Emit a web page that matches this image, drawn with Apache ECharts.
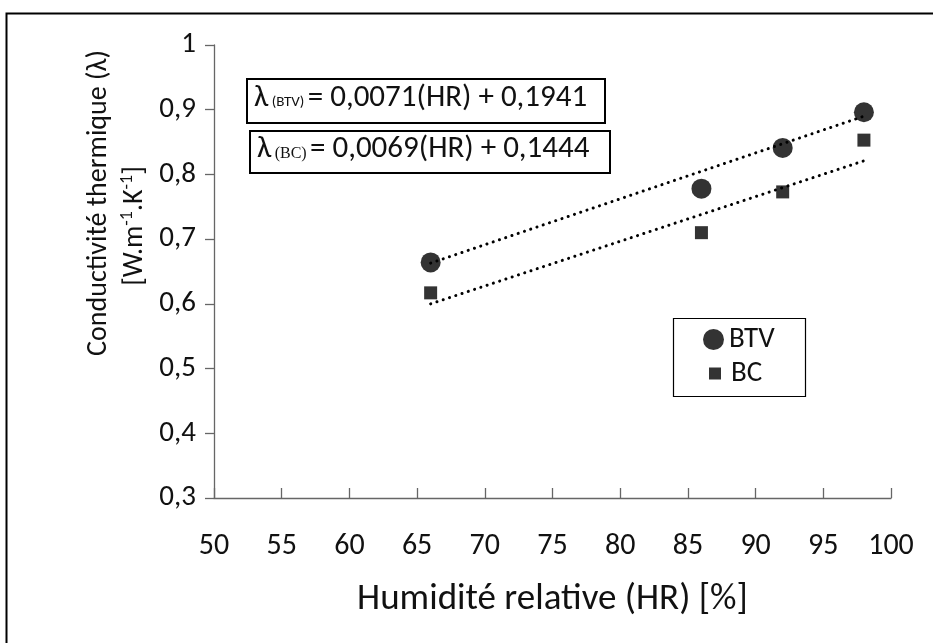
<!DOCTYPE html>
<html>
<head>
<meta charset="utf-8">
<script src="https://cdn.jsdelivr.net/npm/echarts@6/dist/echarts.min.js"></script>
<style>
html,body{margin:0;padding:0;background:#fff;}
#chart{width:933px;height:643px;}
</style>
</head>
<body>
<div id="chart"></div>
<script>
// ---- data ----
var hr = [66, 86, 92, 98];
var btv = [0.664, 0.778, 0.841, 0.896];
var bc = [0.617, 0.710, 0.773, 0.853];
var trendBTV = [[66, 0.663], [98, 0.890]];
var trendBC = [[66, 0.600], [98, 0.821]];
var xTicks = [50, 55, 60, 65, 70, 75, 80, 85, 90, 95, 100];
var yTicks = [0.3, 0.4, 0.5, 0.6, 0.7, 0.8, 0.9, 1];

var FONT = 'Carlito, Lato, "Open Sans", sans-serif';
function pair(xs, ys) { return xs.map(function (x, i) { return [x, ys[i]]; }); }
function fmt(v) { return String(Math.round(v * 10) / 10).replace('.', ','); }

var chart = echarts.init(document.getElementById('chart'));
var option = {
  backgroundColor: '#fff',
  animation: false,
  textStyle: { fontFamily: FONT },
  grid: { left: 214, right: 42, top: 45, bottom: 145, containLabel: false },
  xAxis: {
    type: 'value', min: xTicks[0], max: xTicks[xTicks.length - 1], interval: 5,
    name: 'Humidité relative (HR) [%]', nameLocation: 'middle', nameGap: 83,
    nameTextStyle: { fontSize: 37, color: '#111', fontFamily: FONT },
    axisLine: { lineStyle: { color: '#666', width: 1.3 } },
    axisTick: { show: true, inside: true, length: 10, lineStyle: { color: '#666', width: 1.3 } },
    axisLabel: { fontSize: 30, color: '#111', margin: 33, fontFamily: FONT },
    splitLine: { show: false }
  },
  yAxis: {
    type: 'value', min: yTicks[0], max: yTicks[yTicks.length - 1], interval: 0.1,
    axisLine: { show: true, lineStyle: { color: '#666', width: 1.3 } },
    axisTick: { show: true, inside: false, length: 9, lineStyle: { color: '#666', width: 1.3 } },
    axisLabel: { fontSize: 29, color: '#111', margin: 18, fontFamily: FONT, formatter: fmt },
    splitLine: { show: false }
  },
  legend: [
    {
      data: [{ name: 'BTV', icon: 'circle' }], left: 698, top: 320, orient: 'vertical',
      itemWidth: 21, itemHeight: 21, selectedMode: false,
      textStyle: { fontSize: 29, color: '#111', fontFamily: FONT, padding: [0, 0, 0, 0] }
    },
    {
      data: [{ name: 'BC', icon: 'rect' }], left: 704, top: 354, orient: 'vertical',
      itemWidth: 12, itemHeight: 12, selectedMode: false,
      textStyle: { fontSize: 29, color: '#111', fontFamily: FONT, padding: [0, 0, 0, 5] }
    }
  ],
  graphic: [
    { type: 'rect', left: 4, top: 11, shape: { width: 1000, height: 700 }, style: { fill: 'none', stroke: '#000', lineWidth: 2 }, silent: true },
    { type: 'rect', left: 671, top: 316, shape: { width: 132, height: 78 }, style: { fill: 'none', stroke: '#000', lineWidth: 1.2 }, silent: true, z: 10 },
    { type: 'rect', left: 246, top: 78, shape: { width: 358, height: 44 }, style: { fill: '#fff', stroke: '#000', lineWidth: 2 }, z: 10 },
    { type: 'rect', left: 249, top: 130, shape: { width: 360, height: 42 }, style: { fill: '#fff', stroke: '#000', lineWidth: 2 }, z: 10 },
    {
      type: 'text', left: 254, top: 83, z: 11,
      style: {
        text: '{l|λ} {s|(BTV)} {a|= 0,0071(HR) + 0,1941}',
        rich: {
          l: { fontSize: 31, fontFamily: FONT, fill: '#111' },
          s: { fontSize: 15, fontFamily: FONT, fill: '#111', padding: [8, 0, 0, 0] },
          a: { fontSize: 31, fontFamily: FONT, fill: '#111' }
        }
      }
    },
    {
      type: 'text', left: 257, top: 134, z: 11,
      style: {
        text: '{l|λ} {s|(BC)} {a|= 0,0069(HR) + 0,1444}',
        rich: {
          l: { fontSize: 31, fontFamily: FONT, fill: '#111' },
          s: { fontSize: 16, fontFamily: '"Liberation Serif", "DejaVu Serif", serif', fill: '#111', padding: [8, 0, 0, 0] },
          a: { fontSize: 31, fontFamily: FONT, fill: '#111' }
        }
      }
    },
    {
      type: 'text', x: 99, y: 203, rotation: Math.PI / 2, z: 11, silent: true,
      style: {
        text: 'Conductivité thermique (λ)', fontSize: 28, fontFamily: FONT, fill: '#111',
        align: 'center', verticalAlign: 'middle'
      }
    },
    {
      type: 'text', x: 135, y: 226, rotation: Math.PI / 2, z: 11, silent: true,
      style: {
        text: '{a|[W.m}{s|-1}{a|.K}{s|-1}{a|]}',
        align: 'center', verticalAlign: 'middle',
        rich: {
          a: { fontSize: 28, lineHeight: 34, fontFamily: FONT, fill: '#111' },
          s: { fontSize: 18, lineHeight: 34, verticalAlign: 'top', fontFamily: FONT, fill: '#111' }
        }
      }
    }
  ],
  series: [
    {
      name: 'trendBTV', type: 'line', data: trendBTV, symbol: 'none', silent: true,
      lineStyle: { color: '#000', width: 3, type: [0.1, 6.5], cap: 'round' }, z: 2
    },
    {
      name: 'trendBC', type: 'line', data: trendBC, symbol: 'none', silent: true,
      lineStyle: { color: '#000', width: 3, type: [0.1, 6.5], cap: 'round' }, z: 2
    },
    {
      name: 'BTV', type: 'scatter', data: pair(hr, btv), symbol: 'circle', symbolSize: 20,
      itemStyle: { color: '#000' }, z: 3
    },
    {
      name: 'BC', type: 'scatter', data: pair(hr, bc), symbol: 'rect', symbolSize: 13,
      itemStyle: { color: '#000' }, z: 3
    }
  ]
};
chart.setOption(option);
</script>
</body>
</html>
